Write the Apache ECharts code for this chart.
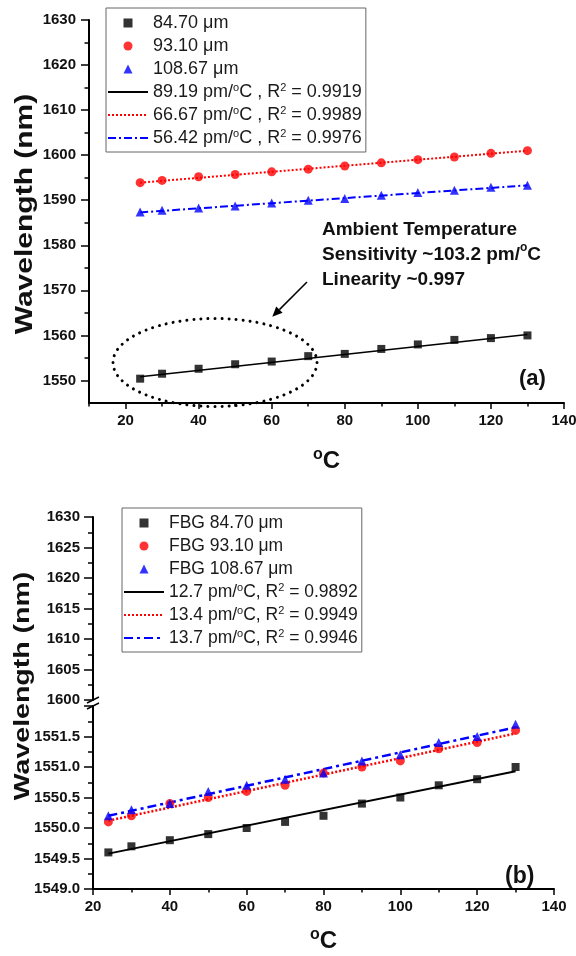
<!DOCTYPE html>
<html>
<head>
<meta charset="utf-8">
<script src="https://cdn.jsdelivr.net/npm/echarts@6/dist/echarts.min.js"></script>
<style>
  html, body { margin: 0; padding: 0; background: #fff; }
  #chart { width: 576px; height: 956px; }
</style>
</head>
<body>
<div id="chart"></div>
<script>
// temperatures (oC), same for both panels
const temps = [24, 30, 40, 50, 60, 70, 80, 90, 100, 110, 120, 130];

// (a) wavelength, nm
const a847 = [1550.4, 1551.5, 1552.6, 1553.6, 1554.2, 1555.4, 1555.9, 1557.0, 1558.0, 1559.0, 1559.4, 1560.0];
const a931 = [1593.9, 1594.4, 1595.2, 1595.7, 1596.3, 1596.9, 1597.6, 1598.3, 1599.0, 1599.6, 1600.4, 1601.0];
const a1087 = [1587.4, 1587.8, 1588.3, 1588.7, 1589.4, 1590.0, 1590.4, 1591.1, 1591.7, 1592.2, 1592.9, 1593.3];
// fit lines: value at first and last temperature
const aFit847 = [1550.8, 1560.2];
const aFit931 = [1593.9, 1601.0];
const aFit1087 = [1587.3, 1593.3];

// (b) wavelength, nm
const b847 = [1549.6, 1549.7, 1549.8, 1549.9, 1550.0, 1550.1, 1550.2, 1550.4, 1550.5, 1550.7, 1550.8, 1551.0];
const b931 = [1550.1, 1550.2, 1550.4, 1550.5, 1550.6, 1550.7, 1550.9, 1551.0, 1551.1, 1551.3, 1551.4, 1551.6];
const b1087 = [1550.2, 1550.3, 1550.4, 1550.6, 1550.7, 1550.8, 1550.9, 1551.1, 1551.2, 1551.4, 1551.5, 1551.7];
const bFit847 = [1549.58, 1550.93];
const bFit931 = [1550.12, 1551.55];
const bFit1087 = [1550.2, 1551.65];

// tick values
const aXTicks = [20, 40, 60, 80, 100, 120, 140];
const aXMinor = [10, 30, 50, 70, 90, 110, 130];
const aYTicks = [1550, 1560, 1570, 1580, 1590, 1600, 1610, 1620, 1630];
const aYMinor = [1555, 1565, 1575, 1585, 1595, 1605, 1615, 1625];

// legend names
const aNames = ['84.70 μm', '93.10 μm', '108.67 μm',
  '89.19 pm/°C , R² = 0.9919', '66.67 pm/°C , R² = 0.9989', '56.42 pm/°C , R² = 0.9976'];
const bNames = ['FBG 84.70 μm', 'FBG 93.10 μm', 'FBG 108.67 μm',
  '12.7 pm/°C, R² = 0.9892', '13.4 pm/°C, R² = 0.9949', '13.7 pm/°C, R² = 0.9946'];

const FONT = 'Liberation Sans, Arial, sans-serif';
const BLACK = '#000000', RED = '#ff0000', BLUE = '#0000ff';
const SQUARE = 'path://M0,0H10V10H0Z';
const TRIANGLE = 'path://M5,0L10,10L0,10Z';
const markIcons = [SQUARE, 'circle', TRIANGLE];

const pts = ys => temps.map((t, i) => [t, ys[i]]);
const fit = ends => [[temps[0], ends[0]], [temps[temps.length - 1], ends[1]]];
const richName = s => s.replace('°', '{s|o}').replace('²', '{s|2}');

const tickFont = { fontFamily: FONT, fontSize: 15, fontWeight: 'bold', color: '#111' };
const lineSt = { color: '#000', width: 2 };
const tickSt = { color: '#000', width: 1.5 };

function legendOf(names, left, top, size) {
  // markers get their own icon, fit lines only show the line
  const data = names.map((n, i) => i < 3
    ? { name: n, icon: markIcons[i] }
    : { name: n, itemStyle: { color: 'rgba(0,0,0,0)', borderWidth: 0 } });
  return {
    data: data, orient: 'vertical', left: left, top: top,
    itemWidth: 40, itemHeight: 9, itemGap: 3, symbolKeepAspect: true,
    padding: [5, 4, 4, 1],
    borderColor: '#666', borderWidth: 1, backgroundColor: '#fff',
    selectedMode: false,
    formatter: richName,
    textStyle: {
      fontFamily: FONT, fontSize: size, color: '#1a1a1a', lineHeight: 20,
      rich: { s: { fontFamily: FONT, fontSize: 11, lineHeight: 11, verticalAlign: 'top', color: '#1a1a1a' } }
    }
  };
}

function scatter(name, data, sym, size, color, xi, yi) {
  return { type: 'scatter', name: name, data: data, symbol: sym, symbolSize: size,
    itemStyle: { color: color }, xAxisIndex: xi, yAxisIndex: yi, z: 3 };
}
function fitLine(name, data, color, width, type, xi, yi) {
  return { type: 'line', name: name, data: data, symbol: 'none', showSymbol: false,
    lineStyle: { color: color, width: width, type: type }, itemStyle: { color: color },
    xAxisIndex: xi, yAxisIndex: yi, z: 2 };
}
// vertical axis title, a bit narrow like the original figure
function yTitle(x, y, size) {
  return { type: 'text', x: x, y: y, rotation: Math.PI / 2, scaleY: 0.78, z: 10,
    style: { text: 'Wavelength (nm)', fontFamily: FONT, fontSize: size, fontWeight: 'bold', fill: '#111',
      align: 'center', verticalAlign: 'middle' } };
}

const xName = {
  fontFamily: FONT, fontSize: 24, fontWeight: 'bold', color: '#111', lineHeight: 28,
  rich: { s: { fontFamily: FONT, fontSize: 16, fontWeight: 'bold', lineHeight: 14, verticalAlign: 'top', color: '#111' } }
};

const chart = echarts.init(document.getElementById('chart'));

const option = {
  animation: false,
  backgroundColor: '#fff',
  grid: [
    { left: 89, right: 12, top: 20, height: 383, outerBoundsMode: 'none' },
    { left: 93, right: 22, top: 517, height: 183, outerBoundsMode: 'none' },
    { left: 93, right: 22, top: 706, height: 183, outerBoundsMode: 'none' }
  ],
  xAxis: [
    { gridIndex: 0, type: 'value', position: 'bottom', min: 10, max: 140,
      axisLine: { onZero: false, lineStyle: lineSt },
      axisTick: { customValues: aXTicks, length: 6, lineStyle: tickSt },
      axisLabel: Object.assign({ customValues: aXTicks, margin: 10, formatter: v => String(v) }, tickFont),
      splitLine: { show: false },
      name: '{s|o}C', nameLocation: 'middle', nameGap: 44, nameMoveOverlap: false, nameTextStyle: xName },
    { gridIndex: 0, type: 'value', position: 'bottom', min: 10, max: 140,
      axisLine: { show: false, onZero: false },
      axisTick: { customValues: aXMinor, length: 3.5, lineStyle: tickSt },
      axisLabel: { show: false }, splitLine: { show: false } },
    { gridIndex: 1, type: 'value', min: 20, max: 140, show: false },
    { gridIndex: 2, type: 'value', position: 'bottom', min: 20, max: 140, interval: 20,
      axisLine: { onZero: false, lineStyle: lineSt },
      axisTick: { length: 6, lineStyle: tickSt },
      minorTick: { show: true, splitNumber: 2, length: 3.5, lineStyle: tickSt },
      axisLabel: Object.assign({ margin: 10, formatter: v => String(v) }, tickFont),
      splitLine: { show: false }, minorSplitLine: { show: false },
      name: '{s|o}C', nameLocation: 'middle', nameGap: 38, nameMoveOverlap: false, nameTextStyle: xName }
  ],
  yAxis: [
    { gridIndex: 0, type: 'value', position: 'left', min: 1545, max: 1630,
      axisLine: { onZero: false, lineStyle: lineSt },
      axisTick: { customValues: aYTicks, length: 8, lineStyle: tickSt },
      axisLabel: Object.assign({ customValues: aYTicks, margin: 13, formatter: v => v.toFixed(0) }, tickFont),
      splitLine: { show: false } },
    { gridIndex: 0, type: 'value', position: 'left', min: 1545, max: 1630,
      axisLine: { show: false, onZero: false },
      axisTick: { customValues: aYMinor, length: 4.5, lineStyle: tickSt },
      axisLabel: { show: false }, splitLine: { show: false } },
    { gridIndex: 1, type: 'value', position: 'left', min: 1600, max: 1630, interval: 5,
      axisLine: { onZero: false, lineStyle: lineSt },
      axisTick: { length: 9, lineStyle: tickSt },
      minorTick: { show: true, splitNumber: 2, length: 5, lineStyle: tickSt },
      axisLabel: Object.assign({ margin: 13, formatter: v => String(v) }, tickFont),
      splitLine: { show: false }, minorSplitLine: { show: false } },
    { gridIndex: 2, type: 'value', position: 'left', min: 1549, max: 1552, interval: 0.5,
      axisLine: { onZero: false, lineStyle: lineSt },
      axisTick: { length: 9, lineStyle: tickSt },
      minorTick: { show: true, splitNumber: 2, length: 5, lineStyle: tickSt },
      axisLabel: Object.assign({ margin: 13, showMaxLabel: false, formatter: v => v.toFixed(1) }, tickFont),
      splitLine: { show: false }, minorSplitLine: { show: false } }
  ],
  legend: [
    legendOf(aNames, 106, 8, 18),
    legendOf(bNames, 122, 508, 17.5)
  ],
  series: [
    fitLine(aNames[3], fit(aFit847), BLACK, 1.5, 'solid', 0, 0),
    fitLine(aNames[4], fit(aFit931), RED, 2, [2, 2], 0, 0),
    fitLine(aNames[5], fit(aFit1087), BLUE, 2, [8, 3, 2, 3], 0, 0),
    scatter(aNames[0], pts(a847), 'rect', 8, BLACK, 0, 0),
    scatter(aNames[1], pts(a931), 'circle', 9, RED, 0, 0),
    scatter(aNames[2], pts(a1087), 'triangle', 9, BLUE, 0, 0),

    fitLine(bNames[3], fit(bFit847), BLACK, 2, 'solid', 3, 3),
    fitLine(bNames[4], fit(bFit931), RED, 2.5, [2, 2], 3, 3),
    fitLine(bNames[5], fit(bFit1087), BLUE, 2.5, [9, 4, 3, 4], 3, 3),
    scatter(bNames[0], pts(b847), 'rect', 8, BLACK, 3, 3),
    scatter(bNames[1], pts(b931), 'circle', 9, RED, 3, 3),
    scatter(bNames[2], pts(b1087), 'triangle', 9, BLUE, 3, 3)
  ],
  graphic: [
    // dotted ellipse round the low-temperature points of (a)
    { type: 'ellipse', shape: { cx: 215, cy: 362.5, rx: 102, ry: 44 }, z: 10,
      style: { fill: 'none', stroke: '#000', lineWidth: 3, lineDash: [0.01, 7], lineCap: 'round' } },
    // arrow
    { type: 'line', shape: { x1: 307, y1: 282, x2: 279.4, y2: 309.6 }, z: 10,
      style: { stroke: '#000', lineWidth: 1.5 } },
    { type: 'polygon', shape: { points: [[272.3, 316.7], [282.6, 312.8], [276.2, 306.4]] }, z: 10,
      style: { fill: '#000' } },
    { type: 'text', x: 322, y: 217, z: 10,
      style: { text: 'Ambient Temperature\nSensitivity ~103.2 pm/{s|o}C\nLinearity ~0.997',
        fontFamily: FONT, fontSize: 19, fontWeight: 'bold', lineHeight: 25, fill: '#111',
        rich: { s: { fontFamily: FONT, fontSize: 12, fontWeight: 'bold', lineHeight: 14, verticalAlign: 'top', fill: '#111' } } } },
    { type: 'text', x: 519, y: 379, z: 10,
      style: { text: '(a)', fontFamily: FONT, fontSize: 22, fontWeight: 'bold', fill: '#111', verticalAlign: 'middle' } },
    { type: 'text', x: 505, y: 877, z: 10,
      style: { text: '(b)', fontFamily: FONT, fontSize: 23, fontWeight: 'bold', fill: '#111', verticalAlign: 'middle' } },
    yTitle(26, 214, 30),
    yTitle(23, 686, 28.5),
    // axis break marks
    { type: 'line', shape: { x1: 87, y1: 703, x2: 99, y2: 697 }, z: 10, style: { stroke: '#000', lineWidth: 1.5 } },
    { type: 'line', shape: { x1: 87, y1: 709, x2: 99, y2: 703 }, z: 10, style: { stroke: '#000', lineWidth: 1.5 } }
  ]
};

chart.setOption(option);
</script>
</body>
</html>
